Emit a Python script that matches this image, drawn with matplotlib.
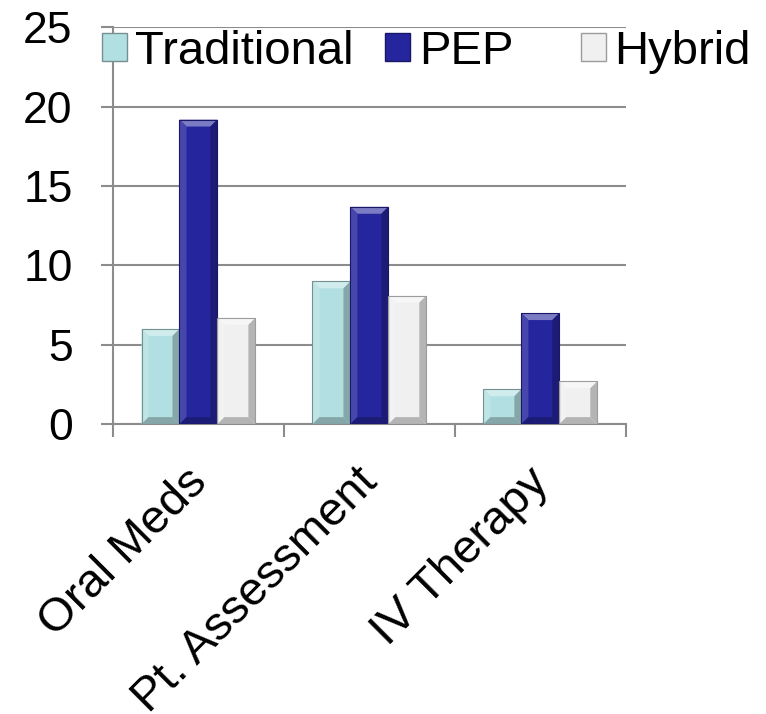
import matplotlib
matplotlib.use("Agg")
import matplotlib.pyplot as plt
import matplotlib.colors as mcolors
import matplotlib.transforms as mtransforms
from matplotlib.patches import Polygon, Patch
import numpy as np

categories = ["Oral Meds", "Pt. Assessment", "IV Therapy"]
series_names = ["Traditional", "PEP", "Hybrid"]
traditional = [6.0, 9.0, 2.2]
pep = [19.2, 13.7, 7.0]
hybrid = [6.7, 8.1, 2.7]
yticks = [0, 5, 10, 15, 20, 25]

colors = ["#b2dfe1", "#25259d", "#f0f0f0"]
grid_col = "#8c8c8c"

plt.rcParams['font.family'] = ['Liberation Sans', 'DejaVu Sans']


def shade(c, amt):
    # amt > 0 lightens toward white, amt < 0 darkens toward black
    rgb = np.array(mcolors.to_rgb(c))
    if amt >= 0:
        return tuple(rgb + (1 - rgb) * amt)
    return tuple(rgb * (1 + amt))


def bevel(ax, rect, color, px=7):
    # draw a bevelled look on top of a bar, px is the bevel width in pixels
    x0, y0 = rect.get_x(), rect.get_y()
    w, h = rect.get_width(), rect.get_height()
    X0, Y0 = ax.transData.transform((x0, y0))
    X1, Y1 = ax.transData.transform((x0 + w, y0 + h))
    b = min(px, (X1 - X0) / 2, (Y1 - Y0) / 2)
    faces = [
        ([(X0, Y1), (X1, Y1), (X1 - b, Y1 - b), (X0 + b, Y1 - b)], 0.4),
        ([(X0, Y0), (X0, Y1), (X0 + b, Y1 - b), (X0 + b, Y0 + b)], 0.15),
        ([(X1, Y0), (X1, Y1), (X1 - b, Y1 - b), (X1 - b, Y0 + b)], -0.25),
        ([(X0, Y0), (X1, Y0), (X1 - b, Y0 + b), (X0 + b, Y0 + b)], -0.25),
    ]
    inv = ax.transData.inverted()
    for pts, amt in faces:
        poly = Polygon(inv.transform(pts), closed=True, facecolor=shade(color, amt),
                       edgecolor='none', zorder=4)
        ax.add_patch(poly)
    ax.add_patch(Polygon(inv.transform([(X0, Y0), (X1, Y0), (X1, Y1), (X0, Y1)]),
                         closed=True, fill=False, edgecolor=shade(color, -0.35),
                         linewidth=0.8, zorder=5))


fig = plt.figure(figsize=(7.66, 7.14), dpi=100)
ax = fig.add_axes([0.1475, 0.406, 0.6695, 0.5555])

x = np.arange(len(categories))
width = 0.222
bars = []
for i, (vals, c) in enumerate(zip([traditional, pep, hybrid], colors)):
    b = ax.bar(x + (i - 1) * width, vals, width, color=c, zorder=3, linewidth=0)
    bars.append(b)

ax.set_xlim(-0.5, 2.5)
ax.set_ylim(0, 25)
ax.set_yticks(yticks)
ax.set_yticklabels([str(t) for t in yticks], fontsize=32)
ax.set_xticks([-0.5, 0.5, 1.5, 2.5])
ax.set_xticklabels([])
ax.set_xticks(x, minor=True)
ax.set_xticklabels(categories, minor=True, fontsize=34, rotation=45,
                   ha='right', va='top', rotation_mode='anchor')
ax.tick_params(axis='x', which='minor', length=0, pad=18)
ax.tick_params(axis='x', which='major', length=9, width=1.5, color=grid_col)
ax.tick_params(axis='y', length=9, width=1.5, color=grid_col, pad=20)

# nudge the slanted category labels
shift = mtransforms.ScaledTranslation(-14 / 100, -11 / 100, fig.dpi_scale_trans)
for lbl in ax.get_xticklabels(minor=True):
    lbl.set_transform(lbl.get_transform() + shift)

ax.grid(axis='y', color=grid_col, linewidth=1.5, zorder=0)
for s in ['top', 'right']:
    ax.spines[s].set_visible(False)
for s in ['left', 'bottom']:
    ax.spines[s].set_color(grid_col)
    ax.spines[s].set_linewidth(1.5)

for b, c in zip(bars, colors):
    for rect in b:
        bevel(ax, rect, c)

# one legend per series so the entries sit where we want them
legend_x = [0.133, 0.503, 0.758]
for name, c, lx in zip(series_names, colors, legend_x):
    h = Patch(facecolor=c, edgecolor=shade(c, -0.35), linewidth=1)
    leg = fig.legend([h], [name], loc='center left', bbox_to_anchor=(lx, 0.927),
                     frameon=False, fontsize=34, handlelength=0.53, handleheight=0.53,
                     handletextpad=0.18, borderpad=0, borderaxespad=0)

fig.savefig("out.png", dpi=100)
